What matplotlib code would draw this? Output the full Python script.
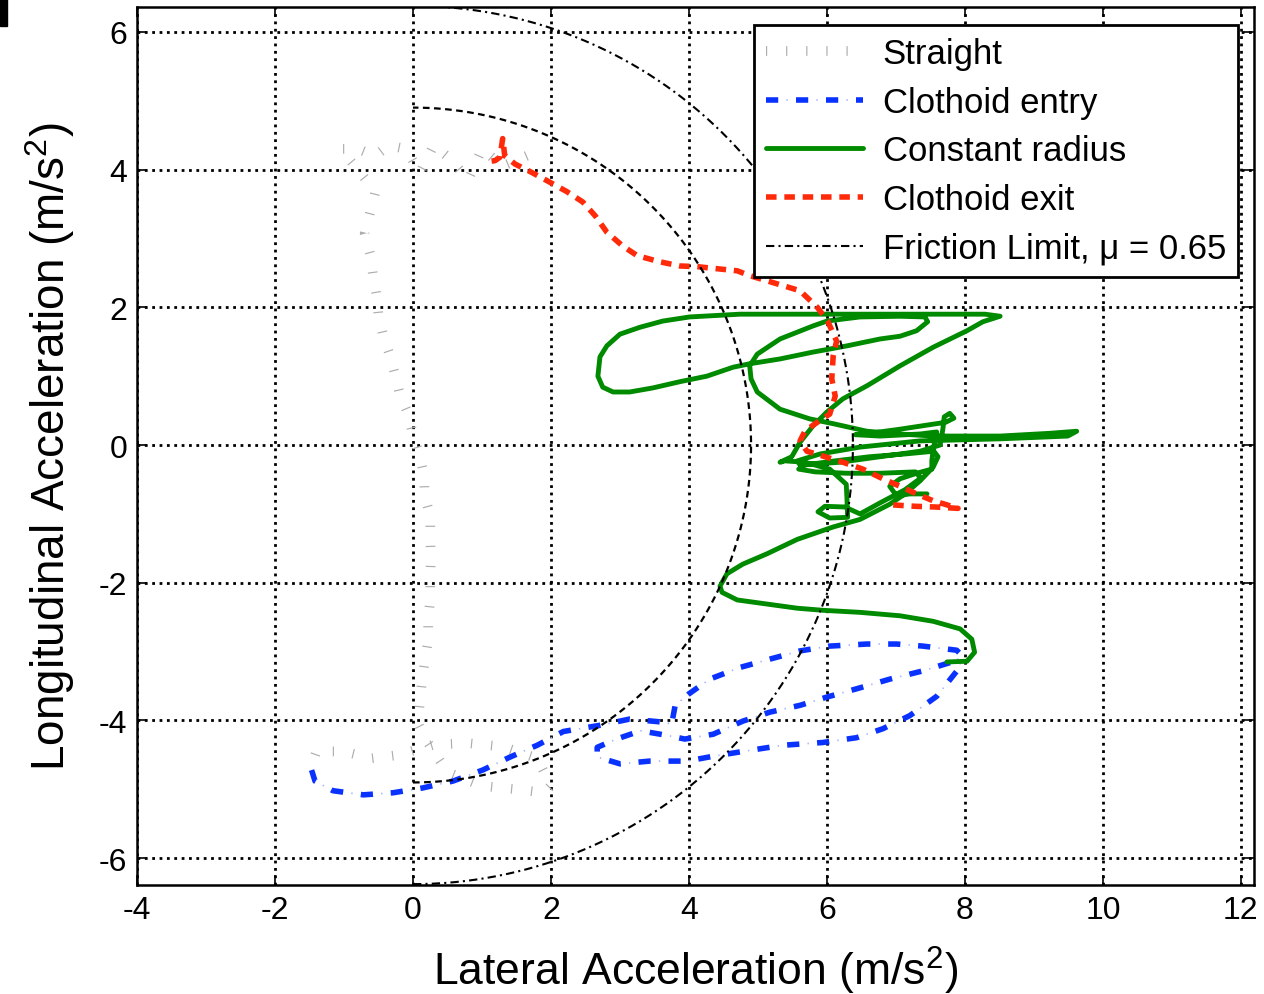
import numpy as np
import matplotlib
matplotlib.use("Agg")
import matplotlib.pyplot as plt
from matplotlib.legend_handler import HandlerTuple
from matplotlib.patches import Rectangle

plt.rcParams['font.family'] = ['Liberation Sans', 'DejaVu Sans']
plt.rcParams['mathtext.default'] = 'regular'
plt.rcParams['axes.unicode_minus'] = False

# friction limit, mu = 0.65
mu = 0.65
g = 9.81
inner_radius = 4.9

# Straight (lateral, longitudinal)
straight_x = [1.65, 1.3, 1.0, 0.8, 0.55, 0.3, 0.1, -0.1, -0.35, -0.55, -0.8, -1.05, -0.8,
              -0.6, -0.55, -0.70, -0.62, -0.58, -0.53, -0.50, -0.43, -0.33, -0.26, -0.19,
              -0.07, 0.0, 0.09, 0.16, 0.17, 0.25, 0.25, 0.26, 0.25, 0.25, 0.22, 0.22, 0.17,
              0.13, 0.10, 0.07, 0.2, 0.5, 1.0, 1.5, 1.9, 2.0, 1.8, 1.3, 0.8, 0.3, -0.2,
              -0.6, -1.0, -1.4, -1.47]
straight_y = [4.2, 4.05, 4.3, 3.85, 4.15, 4.35, 3.95, 4.3, 4.35, 4.2, 4.3, 4.3, 4.0,
              3.75, 3.66, 3.07, 2.77, 2.48, 2.19, 1.89, 1.58, 1.29, 1.02, 0.73,
              0.45, 0.15, -0.13, -0.44, -0.74, -1.03, -1.34, -1.64, -1.93, -2.24, -2.54,
              -2.83, -3.14, -3.43, -3.73, -4.04, -4.3, -4.75, -4.95, -5.0, -5.05, -4.95,
              -4.55, -4.38, -4.33, -4.35, -4.5, -4.55, -4.45, -4.45, -4.65]

# Clothoid entry
entry_x = [-1.47, -1.42, -1.16, -0.72, -0.29, 0.14, 0.58, 1.01, 1.41, 1.80, 2.18, 2.71,
           3.14, 3.58, 3.75, 3.80, 3.99, 4.30, 4.74, 5.17, 5.61, 6.04, 6.58, 7.01, 7.39,
           7.88, 7.95, 7.88, 7.39, 6.91, 6.43, 6.00, 5.61, 5.17, 4.78, 4.35, 3.94, 3.70,
           3.30, 2.95, 2.67, 2.67, 3.00, 3.43, 3.97, 4.35, 4.78, 5.36, 5.94, 6.43, 6.81,
           7.20, 7.59, 7.90, 7.95]
entry_y = [-4.72, -4.88, -5.02, -5.08, -5.05, -4.98, -4.88, -4.72, -4.53, -4.36, -4.16,
           -4.07, -3.98, -4.02, -4.05, -3.78, -3.62, -3.40, -3.23, -3.11, -2.99, -2.92,
           -2.89, -2.89, -2.92, -2.98, -3.05, -3.13, -3.28, -3.40, -3.54, -3.66, -3.78,
           -3.88, -4.01, -4.20, -4.27, -4.22, -4.15, -4.27, -4.39, -4.53, -4.63, -4.59,
           -4.59, -4.52, -4.45, -4.36, -4.32, -4.25, -4.12, -3.93, -3.65, -3.26, -3.12]

# Constant radius
const_x = [7.74, 8.03, 8.14, 8.10, 7.93, 7.54, 7.06, 6.48, 5.94, 5.57, 5.13, 4.70, 4.48,
           4.45, 4.55, 4.78, 5.13, 5.57, 6.09, 6.48, 6.91, 7.13, 7.35, 7.54, 7.61, 7.55,
           7.13, 6.62, 6.12, 5.68, 5.59, 5.83, 6.29, 6.77, 7.28, 7.36, 7.13, 6.77, 6.48,
           6.26, 5.97, 5.87, 6.04, 6.30, 6.29, 6.28, 6.04, 5.68, 5.39, 5.32, 5.49,
           5.61, 5.80, 6.00, 6.23, 6.58, 7.06, 7.54, 8.03, 8.26, 8.51, 8.29,
           7.64, 6.77, 5.61, 4.74, 4.01, 3.62, 3.29, 3.00, 2.81, 2.71, 2.68, 2.75, 2.90,
           3.14, 3.48, 3.87, 4.26, 4.64, 4.88, 5.32, 5.80, 6.29, 6.77, 7.06, 7.30, 7.46,
           7.42, 7.06, 6.48, 6.00,
           5.80, 5.32, 4.99, 4.88, 4.90, 4.99, 5.32, 5.75, 6.09, 6.58, 7.06, 7.54, 8.51,
           9.23, 9.62, 9.49,
           8.51, 7.35, 6.48, 5.90, 5.57, 5.61, 6.19, 6.77, 7.35, 7.64, 7.68, 7.70, 7.78,
           7.84, 7.72, 7.59, 7.06, 6.62, 6.41, 6.77, 7.35, 7.59, 7.54, 7.52, 7.52, 7.30,
           7.06, 6.91, 7.01, 7.20, 7.45]
const_y = [-3.15, -3.14, -3.01, -2.82, -2.67, -2.56, -2.48, -2.43, -2.40, -2.37, -2.31,
           -2.25, -2.14, -2.05, -1.87, -1.73, -1.58, -1.37, -1.19, -1.08, -0.86, -0.71,
           -0.52, -0.32, -0.17, -0.09,
           -0.13, -0.17, -0.23, -0.29, -0.35, -0.39, -0.41, -0.41, -0.39, -0.48, -0.65,
           -0.84, -1.00, -0.90, -0.89, -0.97, -1.06, -1.05, -0.78, -0.57, -0.35, -0.25,
           -0.23, -0.25, -0.17,
           0.04, 0.28, 0.48, 0.67, 0.86, 1.15, 1.42, 1.66, 1.79, 1.87, 1.90,
           1.90, 1.90, 1.90, 1.90, 1.86, 1.80, 1.71, 1.61, 1.44, 1.28, 1.00, 0.84, 0.77,
           0.77, 0.83, 0.92, 1.00, 1.13, 1.18, 1.25, 1.35, 1.44, 1.54, 1.58, 1.66, 1.79,
           1.86, 1.87, 1.86, 1.80,
           1.73, 1.54, 1.32, 1.15, 0.96, 0.77, 0.52, 0.38, 0.31, 0.20, 0.16, 0.13, 0.13,
           0.17, 0.20, 0.13,
           0.09, 0.06, -0.03, -0.13, -0.23, -0.29, -0.25, -0.17, -0.09, 0.00, 0.23, 0.41,
           0.46, 0.39, 0.33, 0.31, 0.23, 0.17, 0.15, 0.13, 0.16, 0.19, -0.06, -0.23,
           -0.35, -0.41, -0.49, -0.60, -0.74, -0.71, -0.71]

# Clothoid exit
exit_x = [6.96, 7.28, 7.57, 7.90, 7.71, 7.54, 7.30, 7.06, 6.81, 6.52, 6.23, 5.94, 5.71,
          5.61, 5.68, 5.83, 6.04, 6.12, 6.07, 6.09, 6.14, 6.01, 5.86, 5.61, 5.28, 4.88,
          4.70, 4.41, 4.12, 3.87, 3.58, 3.25, 3.04, 2.81, 2.64, 2.46, 2.23, 1.94, 1.70,
          1.48, 1.33, 1.30, 1.26, 1.19, 1.04]
exit_y = [-0.87, -0.89, -0.90, -0.92, -0.86, -0.81, -0.71, -0.60, -0.49, -0.35, -0.25,
          -0.16, -0.09, 0.06, 0.20, 0.31, 0.45, 0.71, 0.96, 1.29, 1.51, 1.80, 2.00, 2.24,
          2.34, 2.46, 2.53, 2.56, 2.59, 2.60, 2.66, 2.75, 2.89, 3.09, 3.33, 3.53, 3.68,
          3.84, 3.97, 4.08, 4.20, 4.45, 4.18, 4.13, 4.11]

x_ticks = [-4, -2, 0, 2, 4, 6, 8, 10, 12]
y_ticks = [-6, -4, -2, 0, 2, 4, 6]

fig = plt.figure(figsize=(12.64, 9.95), dpi=100)
ax = fig.add_axes([0.1084, 0.1095, 0.8837, 0.8824])

# straight: thick line with tiny dashes gives the little tick marks
l_straight, = ax.plot(straight_x, straight_y, color='#acacac', lw=7,
                      dashes=(0.12, 1.95), dash_capstyle='butt', label='Straight')

faint, = ax.plot(entry_x, entry_y, color='#9fb0ff', lw=1.2,
                 linestyle=(5.75, (0.8, 17.2)), dash_capstyle='butt')
l_entry, = ax.plot(entry_x, entry_y, color='#0a32ff', lw=4,
                   dashes=(2.2, 3.2), dash_capstyle='butt')

l_const, = ax.plot(const_x, const_y, color='#008a00', lw=3.5,
                   solid_joinstyle='round', solid_capstyle='round')

l_exit, = ax.plot(exit_x, exit_y, color='#ff2a0a', lw=4,
                  dashes=(1.9, 1.4), dash_capstyle='butt')

# friction circles (right half only)
theta = np.linspace(-np.pi / 2, np.pi / 2, 400)
R = mu * g
l_fric, = ax.plot(R * np.cos(theta), R * np.sin(theta), color='black', lw=1.5,
                  dashes=(4, 2, 1, 2))
ax.plot(inner_radius * np.cos(theta), inner_radius * np.sin(theta), color='black',
        lw=1.6, dashes=(3, 2))

ax.set_xlim(-4, 12.19)
ax.set_ylim(-6.39, 6.36)
ax.set_xticks(x_ticks)
ax.set_yticks(y_ticks)
ax.grid(True, color='black', linestyle=':', lw=2)
ax.tick_params(direction='in', length=7, width=1.2, labelsize=23,
               top=True, right=True, pad=7)
for s in ax.spines.values():
    s.set_linewidth(1.8)

ax.set_xlabel('Lateral Acceleration (m/s$^2$)', fontsize=32, labelpad=14)
ax.set_ylabel('Longitudinal Acceleration (m/s$^2$)', fontsize=33, labelpad=16)

leg = ax.legend([l_straight, (faint, l_entry), l_const, l_exit, l_fric],
                ['Straight', 'Clothoid entry', 'Constant radius', 'Clothoid exit',
                 'Friction Limit, μ = 0.65'],
                handler_map={tuple: HandlerTuple(ndivide=1)},
                loc='upper right', bbox_to_anchor=(0.9857, 0.9795),
                borderaxespad=0, fontsize=25, fancybox=False, framealpha=1,
                edgecolor='black', handlelength=2.8, handletextpad=0.55,
                labelspacing=0.45, borderpad=0.35)
leg.get_frame().set_linewidth(2)

fig.patches.append(Rectangle((0, 1 - 27 / 995), 7 / 1264, 27 / 995,
                             transform=fig.transFigure, color='black'))

fig.savefig('out.png', dpi=100)
